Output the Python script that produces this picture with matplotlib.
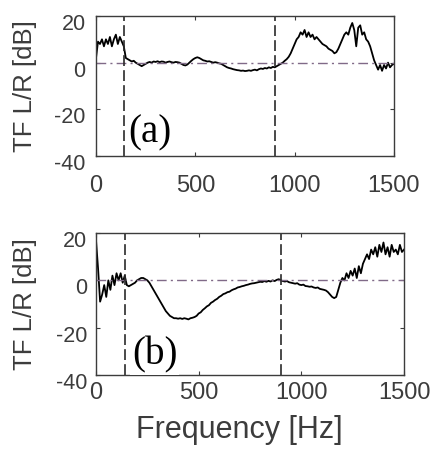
#! /usr/bin/env python3

import numpy as np
import matplotlib
matplotlib.use("Agg")
import matplotlib.pyplot as plt
from matplotlib.transforms import ScaledTranslation

freq = np.arange(0, 1501, 10)

# panel (a)
tf_a = [2, 9, 8, 10, 7, 10, 8, 11, 7, 10, 12, 8, 11, 9, 7, 2, 1.5, 1, 0.5, 0.8,
        0, -0.5, -1, -1.5, -1, -0.5, 0, 0.3, 0, 0.5, 0.3, 0.6, 0.2, 0.5, 0.4, 0,
        0.3, 0.5, 0.2, 0, 0.3, 0.2, 0, -0.5, -1, -1.2, -0.8, 0, 0.8, 1.5, 2, 2.3,
        2, 1.5, 1, 0.8, 0.5, 0.6, 0.3, 0, 0.2, 0, -0.3, -0.5, -1, -1.5, -2, -2.3,
        -2.5, -2.8, -3, -3.2, -3.3, -3.5, -3.4, -3.6, -3.5, -3.3, -3.5, -3.2, -3.0,
        -3.3, -2.8, -2.5, -2.7, -2.3, -2.5, -2, -2.3, -1.8, -2, -1.5, -1, -0.5, 0,
        0.8, 1.5, 2.5, 4, 6, 8, 10, 11, 13, 12, 14, 11, 13, 11, 12, 10, 11, 10, 9,
        8, 7.5, 7, 6, 5.5, 5, 4, 4.5, 6, 8, 10, 12, 13, 12, 15, 17, 14, 7, 15, 16,
        12, 13, 10, 9, 7, 4, 1, -1, -3, -1, -3.5, -1, -2.5, 0, -2, -1, -0.5]

# panel (b)
tf_b = [17, 5, -9, -6, -2, -7, 0, -4, 2, -2, 3, 0, 3, -1, 2, -2, -2.5, -2, -1.5,
        -1, 0, 0.5, 1, 1, 0.5, 0, -1, -2.5, -4, -5.5, -7, -8.5, -10, -11.5, -13,
        -14, -15, -15.5, -16, -16, -16.2, -16, -16.3, -16, -16.2, -16.5, -16,
        -15.8, -15.5, -15, -14, -13.5, -12.5, -11.8, -11, -10.5, -9.5, -9, -8.3,
        -7.8, -7, -6.5, -5.8, -5.5, -5, -4.8, -4.2, -3.8, -3.5, -3, -2.8, -2.5,
        -2.3, -2, -1.8, -1.5, -1.3, -1.2, -1, -0.8, -0.6, -0.7, -0.3, -0.6, -0.2,
        -0.5, 0, -0.3, 0.2, 0.5, 0, -0.3, -0.5, -0.3, -0.8, -1, -1.2, -1.4, -1.2,
        -1.8, -2, -1.8, -2.4, -2.5, -2.7, -2.6, -3, -3.2, -3, -3.6, -3.8, -4, -4.3,
        -5, -6, -7, -7.5, -7, -4, -1, 1, 0, 3, 1, 4, 2, 5, 1, 6, 3, 7, 9, 11, 9,
        13, 11, 14, 10, 15, 12, 16, 11, 14, 10, 15, 12, 13, 11, 15, 12, 13]

band = [140, 900]
xticks = [0, 500, 1000, 1500]
yticks = [-40, -20, 0, 20]

plt.rcParams["font.family"] = ["Liberation Sans", "DejaVu Sans"]
plt.rcParams["axes.unicode_minus"] = False
grey = "#3c3c3c"

fig = plt.figure(figsize=(4.41, 4.58), dpi=100)
ax_a = fig.add_axes([0.2177, 0.6594, 0.6757, 0.3057])
ax_b = fig.add_axes([0.2177, 0.1812, 0.6984, 0.3100])

# axes, data, label, label position, x tick pad, y tick pad, ylabel x
setup = [(ax_a, tf_a, "(a)", 161, -34, 14, 7.5, -0.198),
         (ax_b, tf_b, "(b)", 175, -35.5, 5, 6.5, -0.190)]

for ax, y, lab, tx, ty, xpad, ypad, ylx in setup:
    ax.plot(freq, y, color="black", linewidth=1.3)
    ax.axhline(0, color="#806a88", linewidth=1.0,
               linestyle=(0, (7, 3, 1.5, 3)))
    for f in band:
        ax.axvline(f, color="#2a2a2a", linewidth=1.2,
                   linestyle=(0, (6.5, 2.5)))
    ax.set_xlim(0, 1500)
    ax.set_ylim(-40, 20)
    ax.set_xticks(xticks)
    ax.set_yticks(yticks)
    ax.tick_params(direction="in", length=3, colors=grey, labelcolor=grey,
                   top=True, right=True)
    ax.tick_params(axis="x", labelsize=17, pad=xpad)
    ax.tick_params(axis="y", labelsize=15.5, pad=ypad)
    # tick labels sit a little low in the original
    for t in ax.get_yticklabels():
        t.set_transform(t.get_transform() +
                        ScaledTranslation(0, -6 / 100, fig.dpi_scale_trans))
    ax.set_ylabel("TF L/R [dB]", fontsize=18.5, color=grey)
    ax.yaxis.set_label_coords(ylx, 0.5)
    for s in ax.spines.values():
        s.set_color(grey)
        s.set_linewidth(1.0)
    bbox = None
    if lab == "(b)":
        bbox = dict(facecolor="white", edgecolor="none", pad=1)
    ax.text(tx, ty, lab, fontsize=28, family="Liberation Serif",
            color="black", bbox=bbox)

ax_b.set_xlabel("Frequency [Hz]", fontsize=22, color=grey)
ax_b.xaxis.set_label_coords(0.464, -0.28)

fig.savefig("out.png", dpi=100)
